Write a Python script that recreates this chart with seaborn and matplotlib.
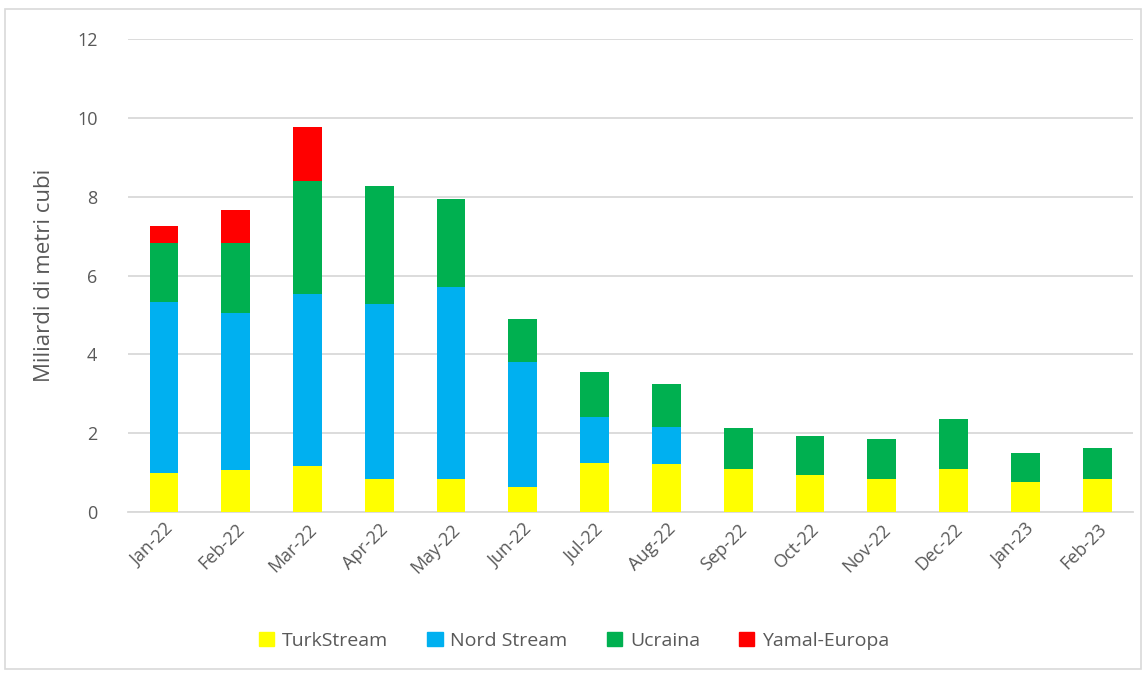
import numpy as np
import pandas as pd
import matplotlib
matplotlib.use("Agg")
import matplotlib.pyplot as plt
import seaborn as sns
from matplotlib.patches import Rectangle

# monthly Russian gas flows to Europe by route (bcm)
months = ["Jan-22", "Feb-22", "Mar-22", "Apr-22", "May-22", "Jun-22", "Jul-22",
          "Aug-22", "Sep-22", "Oct-22", "Nov-22", "Dec-22", "Jan-23", "Feb-23"]
turkstream = [1.00, 1.07, 1.18, 0.84, 0.83, 0.63, 1.24, 1.21, 1.08, 0.94, 0.84, 1.09, 0.75, 0.84]
nord_stream = [4.33, 3.97, 4.34, 4.45, 4.87, 3.17, 1.16, 0.94, 0, 0, 0, 0, 0, 0]
ucraina = [1.49, 1.78, 2.88, 2.97, 2.23, 1.09, 1.16, 1.09, 1.06, 1.00, 1.01, 1.27, 0.76, 0.78]
yamal = [0.43, 0.84, 1.37, 0, 0, 0, 0, 0, 0, 0, 0, 0, 0, 0]

series = ["TurkStream", "Nord Stream", "Ucraina", "Yamal-Europa"]
colors = {"TurkStream": "#FFFF00", "Nord Stream": "#00B0F0",
          "Ucraina": "#00B050", "Yamal-Europa": "#FF0000"}

df = pd.DataFrame({"Mese": months, "TurkStream": turkstream, "Nord Stream": nord_stream,
                   "Ucraina": ucraina, "Yamal-Europa": yamal})
# cumulative tops, drawn from the top layer down so each covers the one below
cum = df[series].cumsum(axis=1)
cum["Mese"] = df["Mese"]

sns.set_theme(style="white")
plt.rcParams["font.family"] = ["Open Sans", "DejaVu Sans"]
text_color = "#595959"
grid_color = "#D9D9D9"

fig = plt.figure(figsize=(11.48, 6.73), dpi=100)
ax = fig.add_axes([0.1115, 0.2392, 0.8755, 0.7028])

for name in reversed(series):
    sns.barplot(data=cum, x="Mese", y=name, color=colors[name], width=0.4,
                saturation=1, ax=ax, linewidth=0, zorder=3)

ax.set_ylim(0, 12)
ax.set_xlim(-0.5, len(months) - 0.5)
ax.set_yticks(np.arange(0, 13, 2))
ax.yaxis.grid(True, color=grid_color, linewidth=1.3, zorder=0)
ax.set_axisbelow(True)
for s in ["top", "right", "left"]:
    ax.spines[s].set_visible(False)
ax.spines["bottom"].set_color(grid_color)
ax.spines["bottom"].set_linewidth(1.3)

ax.tick_params(axis="y", length=0, labelsize=13, labelcolor=text_color, pad=22)
ax.tick_params(axis="x", which="major", length=0, labelsize=13, labelcolor=text_color, pad=6)
ax.set_xticks(np.arange(-0.5, len(months), 1), minor=True)
ax.tick_params(axis="x", which="minor", length=8, color=grid_color, width=1.3)
plt.setp(ax.get_xticklabels(), rotation=45, ha="right", rotation_mode="anchor")

ax.set_xlabel("")
ax.set_ylabel("Miliardi di metri cubi", fontsize=16, color=text_color, labelpad=16)

handles = [Rectangle((0, 0), 1, 1, color=colors[n]) for n in series]
fig.legend(handles, series, loc="center", bbox_to_anchor=(0.5, 0.048), ncol=4,
           frameon=False, fontsize=14, labelcolor=text_color, handlelength=0.8,
           handleheight=0.8, handletextpad=0.4, columnspacing=2.0)

# outer chart border
fig.patches.append(Rectangle((0.004, 0.006), 0.99, 0.981, transform=fig.transFigure,
                             fill=False, edgecolor=grid_color, linewidth=1.2))

fig.savefig("out.png", dpi=100)
